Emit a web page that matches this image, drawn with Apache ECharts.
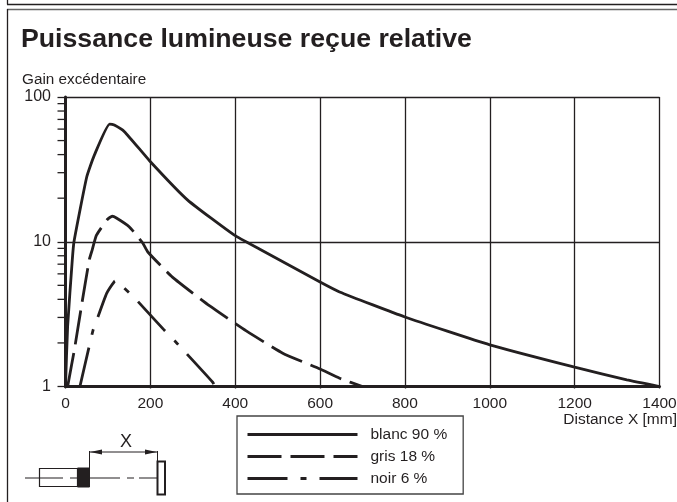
<!DOCTYPE html>
<html>
<head>
    <meta charset="utf-8">
    <title>Puissance lumineuse reçue relative</title>
    <script src="https://cdn.jsdelivr.net/npm/echarts@6/dist/echarts.min.js"></script>
    <style>
        html, body { margin: 0; padding: 0; background: #fff; }
    </style>
</head>

<body>
    <div id="main" style="width: 677px; height: 502px;"></div>

    <script type="text/javascript">
        // [distance mm, gain]
        const blanc = [[0, 1], [5, 2.6], [16, 7.5], [20, 10], [50, 28], [68, 39.7], [104, 65], [115, 64], [139, 57.6],
            [198, 36.3], [288, 19.4], [398, 11.1], [457, 8.9], [600, 5.27], [646, 4.5], [800, 3.02], [1000, 1.94],
            [1200, 1.36], [1323, 1.11], [1400, 1]];
        const gris = [[5, 1], [21, 1.8], [38, 3.65], [56, 7.5], [63, 8.8], [73, 11.1], [99, 14.3], [110, 15], [120, 14.6],
            [150, 12.7], [182, 9.8], [194, 8.5], [252, 5.7], [340, 3.6], [426, 2.42], [512, 1.7], [600, 1.32],
            [646, 1.14], [700, 1]];
        const noir = [[34, 1], [55, 1.85], [65, 2.45], [76, 3], [97, 4.4], [116, 5.35], [120, 5.4], [135, 4.9],
            [167, 3.97], [230, 2.5], [262, 2], [347, 1.07], [352, 1]];
        const seriesNames = ['blanc 90 %', 'gris 18 %', 'noir 6 %'];
        const minorTicks = [2, 3, 4, 5, 6, 7, 8, 9, 20, 30, 40, 50, 60, 70, 80, 90];

        const ink = '#231f20';
        const font = '"Liberation Sans", Arial, sans-serif';

        var myChart = echarts.init(document.getElementById('main'), null, { renderer: 'canvas' });

        function curve(name, data, dash) {
            return {
                name,
                type: 'line',
                data,
                symbol: 'none',
                smooth: 0.15,
                clip: false,
                lineStyle: { color: ink, width: 2.8, type: dash, cap: 'butt' },
                itemStyle: { color: ink }
            };
        }

        function rect(x, y, width, height, fill, stroke, lineWidth) {
            return { type: 'rect', shape: { x, y, width, height }, style: { fill, stroke, lineWidth } };
        }

        function line(x1, y1, x2, y2, lineWidth, stroke) {
            return { type: 'line', shape: { x1, y1, x2, y2 }, style: { stroke: stroke || ink, lineWidth } };
        }

        function label(text, x, y, fontSize, fontWeight, align) {
            return {
                type: 'text',
                x, y,
                style: { text, fontSize, fontWeight: fontWeight || 'normal', fontFamily: font, fill: ink, align: align || 'left', verticalAlign: 'middle' }
            };
        }

        var option = {
            animation: false,
            backgroundColor: '#fff',
            textStyle: { fontFamily: font },
            grid: { left: 65.5, right: 17.5, top: 97, bottom: 115.5, outerBoundsMode: 'none' },
            legend: {
                left: 237,
                top: 416,
                orient: 'vertical',
                data: seriesNames,
                itemWidth: 110,
                itemHeight: 16,
                itemGap: 6,
                padding: [10.5, 16, 7.5, 9],
                borderColor: '#444',
                borderWidth: 1.3,
                selectedMode: false,
                itemStyle: { opacity: 0 },
                lineStyle: { width: 3 },
                textStyle: { color: ink, fontSize: 15.5, fontFamily: font, padding: [0, 0, 0, 8] }
            },
            xAxis: {
                type: 'value',
                min: 0,
                max: 1400,
                interval: 200,
                axisLine: { lineStyle: { color: ink, width: 3 } },
                axisTick: { length: 2, lineStyle: { color: ink, width: 1.3 } },
                axisLabel: {
                    color: ink, fontSize: 15.5, fontFamily: font, margin: 9,
                    showMaxLabel: true, showMinLabel: true,
                    formatter: v => String(v)
                },
                splitLine: { show: true, lineStyle: { color: ink, width: 1.3 } }
            },
            yAxis: {
                type: 'log',
                logBase: 10,
                min: 1,
                max: 100,
                axisLine: { show: true, lineStyle: { color: ink, width: 3 } },
                axisTick: { length: 8, lineStyle: { color: ink, width: 1.3 } },
                axisLabel: { color: ink, fontSize: 16, fontFamily: font, margin: 14.5 },
                splitLine: { show: true, lineStyle: { color: ink, width: 1.3 } }
            },
            series: [
                curve(seriesNames[0], blanc, 'solid'),
                curve(seriesNames[1], gris, [34, 9]),
                curve(seriesNames[2], noir, [40, 13, 6, 13]),
                {
                    type: 'custom',
                    silent: true,
                    data: minorTicks.map(v => [0, v]),
                    renderItem: function (params, api) {
                        const p = api.coord([api.value(0), api.value(1)]);
                        return {
                            type: 'line',
                            shape: { x1: p[0] - 8, y1: p[1], x2: p[0], y2: p[1] },
                            style: { stroke: ink, lineWidth: 1.3 }
                        };
                    }
                }
            ],
            graphic: [
                // frames
                line(7.5, 0, 7.5, 4.5, 1.3),
                line(7, 4.5, 677, 4.5, 1.3),
                line(7, 9.5, 677, 9.5, 1.6, '#666'),
                line(7.5, 9, 7.5, 502, 1.3),
                // texts
                label('Puissance lumineuse reçue relative', 21, 40, 26.7, 'bold'),
                label('Gain excédentaire', 22, 80, 15.3),
                label('Distance X [mm]', 677, 419.5, 15.5, 'normal', 'right'),
                // sensor sketch
                line(25, 478, 157, 478, 1.2),
                rect(39.5, 468.5, 38, 18, 'none', ink, 1.2),
                rect(77.5, 468, 12, 19, ink, ink, 1),
                line(63, 478, 70, 478, 2, '#fff'),
                line(120, 478, 127, 478, 2, '#fff'),
                line(134, 478, 139, 478, 2, '#fff'),
                rect(157.5, 461.5, 7.5, 33, '#fff', ink, 2),
                line(89.5, 468, 89.5, 451, 1),
                line(157.5, 461, 157.5, 451, 1),
                line(90, 452, 157, 452, 1),
                { type: 'polygon', shape: { points: [[90, 452], [102, 449.5], [102, 454.5]] }, style: { fill: ink } },
                { type: 'polygon', shape: { points: [[157, 452], [145, 449.5], [145, 454.5]] }, style: { fill: ink } },
                label('X', 126, 442, 18, 'normal', 'center')
            ]
        };

        myChart.setOption(option);
    </script>
</body>
</html>
